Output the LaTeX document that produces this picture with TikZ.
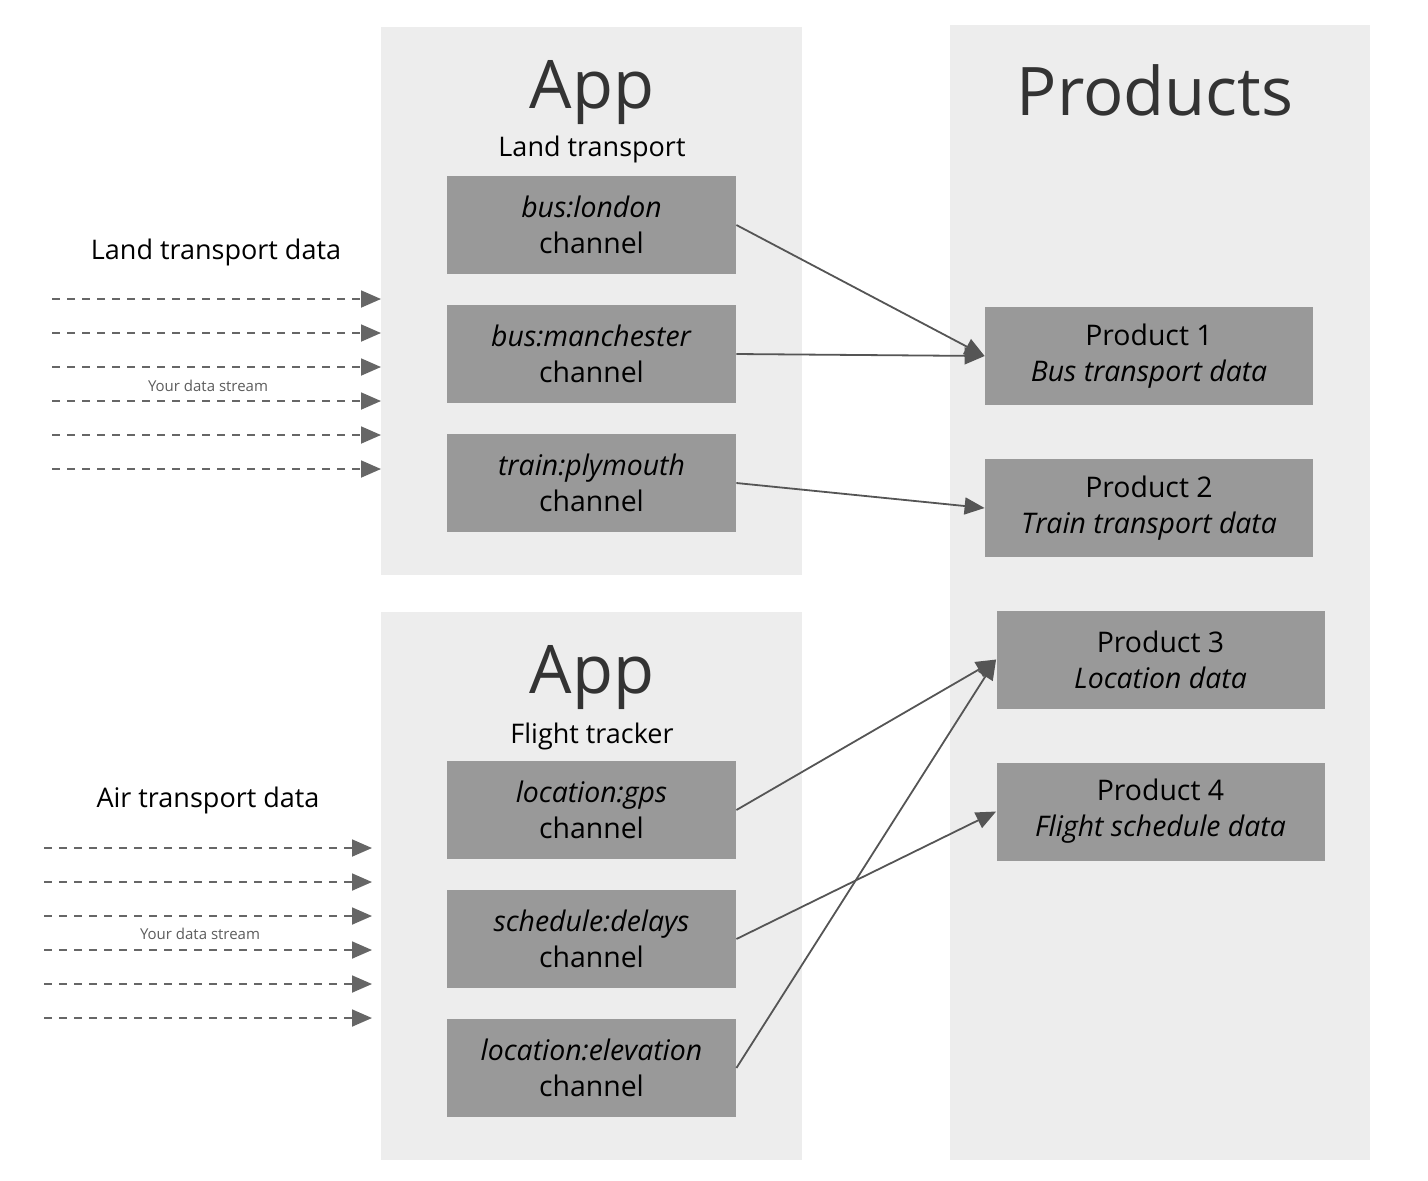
\documentclass[tikz,border=0pt]{standalone}
\usepackage{fontspec}
\setmainfont{Open Sans}
\usepackage{tikz}
\usetikzlibrary{arrows.meta}
\usetikzlibrary{positioning}
\definecolor{panelgrey}{HTML}{EDEDED}
\definecolor{boxgrey}{HTML}{999999}
\definecolor{linegrey}{HTML}{555555}
\definecolor{headgrey}{HTML}{333333}
\tikzset{panel/.style = {fill = panelgrey, inner sep = 0, anchor = north west}}
\tikzset{chan/.style = {fill = boxgrey, inner sep = 0, minimum width = 144.5pt,
                        minimum height = 49pt, align = center,
                        font = \fontsize{14.2}{18}\selectfont}}
\tikzset{prod/.style = {chan, minimum width = 164pt}}
\tikzset{feed/.style = {linegrey, line width = 0.9pt, -{Triangle[length=10pt, width=8.5pt]}}}
\tikzset{stream/.style = {feed, dash pattern = on 4pt off 3.5pt, draw = linegrey!90}}
\tikzset{title/.style = {text = headgrey, font = \fontsize{33.5}{36}\selectfont}}
\tikzset{sub/.style = {text = black, font = \fontsize{13.5}{16}\selectfont}}
\tikzset{small/.style = {text = headgrey!80, font = \fontsize{7.5}{9}\selectfont}}

\begin{document}
\begin{tikzpicture}[x = 0.5pt, y = -0.5pt]
    \useasboundingbox (0, 0) rectangle (1428, 1180);

    % panels
    \node [panel, minimum width = 210.5pt, minimum height = 274pt] (landapp) at (381, 27) {};
    \node [panel, minimum width = 210.5pt, minimum height = 274pt] (flightapp) at (381, 612) {};
    \node [panel, minimum width = 210pt, minimum height = 567.5pt] (products) at (950, 25) {};

    \node [title] (apptitle1) at (592, 93) {App};
    \node [sub] (landsub) at (592, 149) {Land transport};
    \node [title] (apptitle2) at (592, 678) {App};
    \node [sub] (flightsub) at (592, 736) {Flight tracker};
    \node [title] (prodtitle) at (1155, 90) {Products};

    % channels
    \node [chan] (london) at (591.5, 225) {\textit{bus:london}\\channel};
    \node [chan] (manchester) at (591.5, 354) {\textit{bus:manchester}\\channel};
    \node [chan] (plymouth) at (591.5, 483) {\textit{train:plymouth}\\channel};
    \node [chan] (gps) at (591.5, 810) {\textit{location:gps}\\channel};
    \node [chan] (delays) at (591.5, 939) {\textit{schedule:delays}\\channel};
    \node [chan] (elevation) at (591.5, 1068) {\textit{location:elevation}\\channel};

    % products
    \node [prod] (prodone) at (1149, 356) {Product 1\\\textit{Bus transport data}};
    \node [prod] (prodtwo) at (1149, 508) {Product 2\\\textit{Train transport data}};
    \node [prod] (prodthree) at (1160.5, 659.5) {Product 3\\\textit{Location data}};
    \node [prod] (prodfour) at (1160.5, 811.5) {Product 4\\\textit{Flight schedule data}};

    \draw [feed] (london.east) -- (prodone.west);
    \draw [feed] (manchester.east) -- (prodone.west);
    \draw [feed] (plymouth.east) -- (prodtwo.west);
    \draw [feed] (gps.east) -- (prodthree.west);
    \draw [feed] (elevation.east) -- (prodthree.west);
    \draw [feed] (delays.east) -- (prodfour.west);

    % incoming data
    \node [sub] (landdata) at (216, 252) {Land transport data};
    \node [sub] (airdata) at (208, 800) {Air transport data};

    \foreach \i in {0, ..., 5} {
        \coordinate (landin\i) at (52, 299 + 34 * \i);
        \draw [stream] (landin\i) -- (landin\i -| landapp.west);
        \coordinate (airin\i) at (44, 848 + 34 * \i);
        \draw [stream] (airin\i) -- (372, 848 + 34 * \i);
    }
    \node [small] (landlabel) at (208, 386) {Your data stream};
    \node [small] (airlabel) at (200, 934) {Your data stream};
\end{tikzpicture}
\end{document}
